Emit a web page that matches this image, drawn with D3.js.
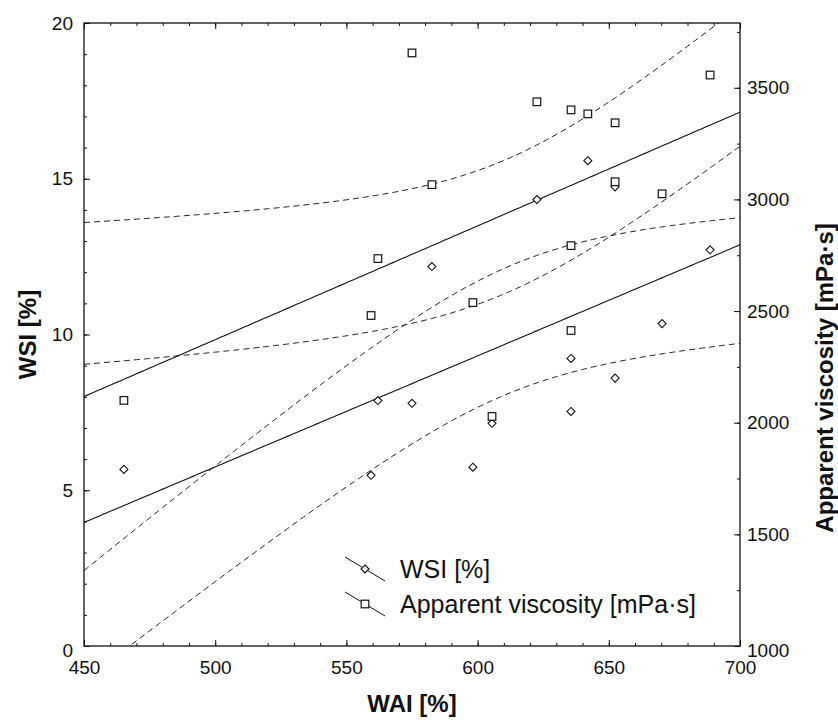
<!DOCTYPE html>
<html><head><meta charset="utf-8">
<script src="https://cdn.jsdelivr.net/npm/d3@7"></script>
<style>
body{margin:0;background:#fff}
text{font-family:"Liberation Sans",Arial,sans-serif;fill:#111}
</style></head>
<body>
<svg id="c" width="838" height="720"></svg>
<script>
// ---- data ----
const waiWSI = [465.2, 559.4, 562, 575, 582.6, 598.2, 605.5, 622.6, 635.6, 635.6, 642, 652.4, 652.4, 670.3, 688.6];
const wsi    = [5.67, 5.48, 7.88, 7.79, 12.18, 5.74, 7.15, 14.33, 9.23, 7.53, 15.58, 14.74, 8.6, 10.35, 12.72];
const waiVisc = [465.2, 559.4, 562, 575, 582.6, 598.2, 605.5, 622.6, 635.6, 635.6, 635.6, 642, 652.4, 652.4, 670.3, 688.6];
const visc    = [2100, 2480, 2735, 3656, 3066, 2538, 2028, 3437, 3401, 2793, 2413, 3383, 3343, 3079, 3025, 3557];

const xTicks = [450, 500, 550, 600, 650, 700];
const wsiTicks = [0, 5, 10, 15, 20];
const viscTicks = [1000, 1500, 2000, 2500, 3000, 3500];
const legendLabels = ["WSI [%]", "Apparent viscosity [mPa\u00B7s]"];
const xTitle = "WAI [%]", yLTitle = "WSI [%]", yRTitle = "Apparent viscosity [mPa\u00B7s]";

// ---- layout ----
const L = 84, R = 740, T = 23, B = 646;
const svg = d3.select("#c");
const x  = d3.scaleLinear().domain([450, 700]).range([L, R]);
const yL = d3.scaleLinear().domain([0, 20]).range([B, T]);
const yR = d3.scaleLinear().domain([1000, 3790]).range([B, T]);

// ---- statistics: linear fit + 95% confidence band of the mean ----
function tq(df){ // Cornish-Fisher approx of t(0.975, df)
  const z = 1.959964, z3=z*z*z, z5=z3*z*z, z7=z5*z*z;
  return z + (z3+z)/(4*df) + (5*z5+16*z3+3*z)/(96*df*df) + (3*z7+19*z5+17*z3-15*z)/(384*df*df*df);
}
function fit(xs, ys){
  const n = xs.length, mx = d3.mean(xs), my = d3.mean(ys);
  let sxx=0, sxy=0, syy=0;
  xs.forEach((v,i)=>{ const dx=v-mx, dy=ys[i]-my; sxx+=dx*dx; sxy+=dx*dy; syy+=dy*dy; });
  const b = sxy/sxx, a = my - b*mx;
  const s = Math.sqrt((syy - sxy*sxy/sxx)/(n-2));
  const t = tq(n-2);
  const f = v => a + b*v;
  const h = v => t*s*Math.sqrt(1/n + (v-mx)*(v-mx)/sxx);
  return {f, lo: v => f(v)-h(v), hi: v => f(v)+h(v)};
}
const grid = d3.range(0, 201).map(i => 450 + i*250/200);

svg.append("defs").append("clipPath").attr("id","clip")
  .append("rect").attr("x",L).attr("y",T).attr("width",R-L).attr("height",B-T);

const plot = svg.append("g").attr("clip-path","url(#clip)");
function drawFit(xs, ys, yScale){
  const m = fit(xs, ys);
  const mk = fn => d3.line().x(v=>x(v)).y(v=>yScale(fn(v)))(grid);
  plot.append("path").attr("d", mk(m.f)).attr("fill","none").attr("stroke","#111").attr("stroke-width",1.1);
  [m.lo, m.hi].forEach(fn => plot.append("path").attr("d", mk(fn)).attr("fill","none")
    .attr("stroke","#222").attr("stroke-width",1).attr("stroke-dasharray","6,4"));
}
drawFit(waiWSI, wsi, yL);
drawFit(waiVisc, visc, yR);

// ---- axes ----
const fontSize = 19;
function styleAxis(g){ g.select(".domain").remove(); g.selectAll("line").attr("stroke","#111");
  g.selectAll("text").attr("font-size",fontSize).attr("font-family",'"Liberation Sans",Arial,sans-serif').attr("fill","#111"); }

// minor ticks
svg.append("g").attr("transform",`translate(0,${B})`).call(d3.axisBottom(x).tickValues(d3.range(450,701,10)).tickSize(-3).tickFormat("")).call(styleAxis);
svg.append("g").attr("transform",`translate(0,${T})`).call(d3.axisTop(x).tickValues(d3.range(450,701,10)).tickSize(-3).tickFormat("")).call(styleAxis);
svg.append("g").attr("transform",`translate(${L},0)`).call(d3.axisLeft(yL).tickValues(d3.range(0,21,1)).tickSize(-3).tickFormat("")).call(styleAxis);
svg.append("g").attr("transform",`translate(${R},0)`).call(d3.axisRight(yR).tickValues(d3.range(1000,3791,250)).tickSize(-3).tickFormat("")).call(styleAxis);

// major ticks + labels
svg.append("g").attr("transform",`translate(0,${B})`).call(d3.axisBottom(x).tickValues(xTicks).tickSize(-6).tickPadding(15).tickFormat(d3.format("d"))).call(styleAxis);
svg.append("g").attr("transform",`translate(0,${T})`).call(d3.axisTop(x).tickValues(xTicks).tickSize(-6).tickFormat("")).call(styleAxis);
const gl = svg.append("g").attr("transform",`translate(${L},0)`).call(d3.axisLeft(yL).tickValues(wsiTicks).tickSize(-6).tickPadding(11).tickFormat(d3.format("d"))).call(styleAxis);
gl.selectAll(".tick").filter(d=>d===0).select("text").attr("dy","0.55em");
const gr = svg.append("g").attr("transform",`translate(${R},0)`).call(d3.axisRight(yR).tickValues(viscTicks).tickSize(-6).tickPadding(7).tickFormat(d3.format("d"))).call(styleAxis);
gr.selectAll(".tick").filter(d=>d===1000).select("text").attr("dy","0.55em");

// frame
svg.append("rect").attr("x",L).attr("y",T).attr("width",R-L).attr("height",B-T)
  .attr("fill","none").attr("stroke","#111").attr("stroke-width",1.3);

// ---- points ----
const diamond = "M0,-4L4,0L0,4L-4,0Z";
svg.append("g").selectAll("path").data(waiWSI).join("path")
  .attr("d", diamond).attr("transform",(d,i)=>`translate(${x(d)},${yL(wsi[i])})`)
  .attr("fill","#fff").attr("stroke","#111").attr("stroke-width",1.1);
svg.append("g").selectAll("rect").data(waiVisc).join("rect")
  .attr("x",d=>x(d)-3.8).attr("y",(d,i)=>yR(visc[i])-3.8).attr("width",7.6).attr("height",7.6)
  .attr("fill","#fff").attr("stroke","#111").attr("stroke-width",1.2);

// ---- legend ----
const lg = svg.append("g");
legendLabels.forEach((lab,i)=>{
  const cx = 365, cy = 569 + i*35;
  lg.append("line").attr("x1",cx-20).attr("y1",cy-12).attr("x2",cx+20).attr("y2",cy+12)
    .attr("stroke","#111").attr("stroke-width",1);
  if(i===0) lg.append("path").attr("d",diamond).attr("transform",`translate(${cx},${cy})`)
    .attr("fill","#fff").attr("stroke","#111").attr("stroke-width",1.1);
  else lg.append("rect").attr("x",cx-3.8).attr("y",cy-3.8).attr("width",7.6).attr("height",7.6)
    .attr("fill","#fff").attr("stroke","#111").attr("stroke-width",1.2);
  lg.append("text").attr("x",400).attr("y",cy).attr("dy","0.35em").attr("font-size",25).text(lab);
});

// ---- titles ----
svg.append("text").attr("x",(L+R)/2).attr("y",712).attr("text-anchor","middle")
  .attr("font-size",24).attr("font-weight","bold").text(xTitle);
svg.append("text").attr("transform",`translate(36,${(T+B)/2}) rotate(-90)`).attr("text-anchor","middle")
  .attr("font-size",24).attr("font-weight","bold").text(yLTitle);
svg.append("text").attr("transform",`translate(833,378) rotate(-90)`).attr("text-anchor","middle")
  .attr("font-size",24).attr("font-weight","bold").text(yRTitle);
</script>
</body></html>
